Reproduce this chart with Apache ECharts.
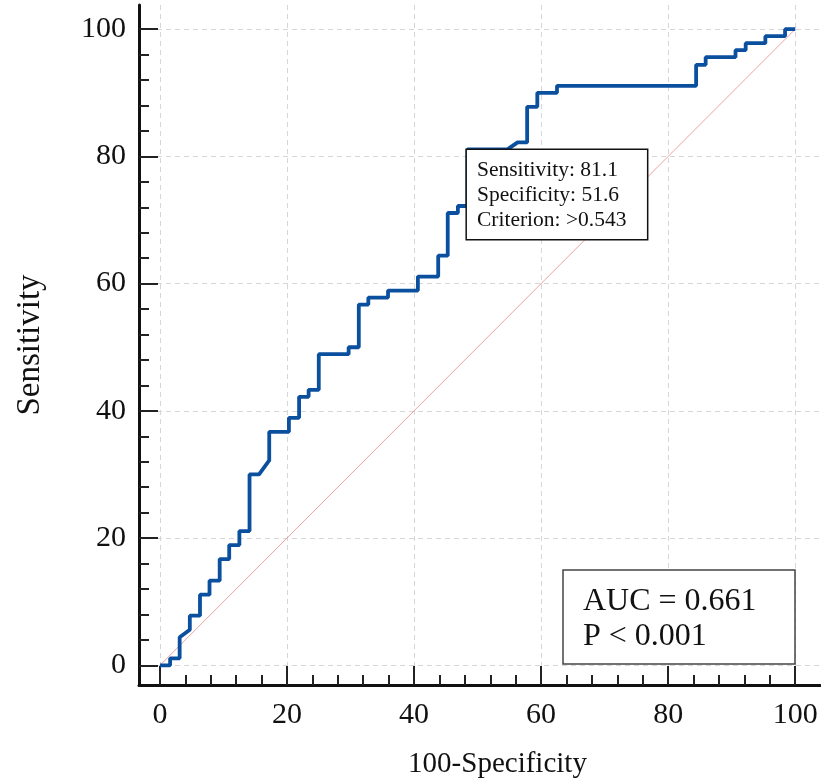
<!DOCTYPE html>
<html>
<head>
<meta charset="utf-8">
<script src="https://cdn.jsdelivr.net/npm/echarts@6/dist/echarts.min.js"></script>
<style>
  html, body { margin: 0; background: #fff; }
  #chart { width: 821px; height: 780px; }
</style>
</head>
<body>
<div id="chart"></div>
<script>
// ROC curve points (100-Specificity, Sensitivity)
const fpr = [0, 1.6, 1.6, 3.1, 3.1, 4.7, 4.7, 6.3, 6.3, 7.8, 7.8, 9.4, 9.4, 10.9, 10.9, 12.5, 12.5, 14.1, 14.1, 15.6,
  17.2, 17.2, 20.3, 20.3, 21.9, 21.9, 23.4, 23.4, 25.0, 25.0, 29.7, 29.7, 31.3, 31.3, 32.8, 32.8, 35.9, 35.9, 40.6, 40.6,
  43.8, 43.8, 45.3, 45.3, 46.9, 46.9, 48.4, 48.4, 54.7, 56.3, 57.8, 57.8, 59.4, 59.4, 62.5, 62.5, 84.4, 84.4, 85.9, 85.9,
  90.6, 90.6, 92.2, 92.2, 95.3, 95.3, 98.4, 98.4, 100];
const tpr = [0, 0, 1.1, 1.1, 4.4, 5.6, 7.8, 7.8, 11.1, 11.1, 13.3, 13.3, 16.7, 16.7, 18.9, 18.9, 21.1, 21.1, 30.0, 30.0,
  32.2, 36.7, 36.7, 38.9, 38.9, 42.2, 42.2, 43.3, 43.3, 48.9, 48.9, 50.0, 50.0, 56.7, 56.7, 57.8, 57.8, 58.9, 58.9, 61.1,
  61.1, 64.4, 64.4, 71.1, 71.1, 72.2, 72.2, 81.1, 81.1, 82.2, 82.2, 87.8, 87.8, 90.0, 90.0, 91.1, 91.1, 94.4, 94.4, 95.6,
  95.6, 96.7, 96.7, 97.8, 97.8, 98.9, 98.9, 100, 100];

// reference (chance) line
const diagX = [0, 100];
const diagY = [0, 100];

const majorTicks = [0, 20, 40, 60, 80, 100];
const minorTicks = [4, 8, 12, 16, 24, 28, 32, 36, 44, 48, 52, 56, 64, 68, 72, 76, 84, 88, 92, 96];

const cutSens = 81.1;
const cutSpec = 51.6;
const cutCriterion = '>0.543';
const aucLines = ['AUC = 0.661', 'P < 0.001'];

const serif = '"Liberation Serif", "DejaVu Serif", serif';

function majorAxis(name, min, max, extra) {
  return Object.assign({
    type: 'value',
    min: min,
    max: max,
    name: name,
    nameLocation: 'middle',
    axisLine: { show: true, onZero: false, lineStyle: { color: '#111', width: 3 } },
    axisTick: { show: true, inside: true, length: 19, customValues: majorTicks, lineStyle: { color: '#222', width: 2 } },
    splitLine: { show: true, lineStyle: { color: '#d6d6d6', width: 1, type: [5, 4] } }
  }, extra);
}

function minorAxis(min, max, position) {
  return {
    type: 'value',
    min: min,
    max: max,
    position: position,
    axisLine: { show: false, onZero: false },
    axisTick: { show: true, inside: true, length: 10, customValues: minorTicks, lineStyle: { color: '#222', width: 2 } },
    axisLabel: { show: false },
    splitLine: { show: false }
  };
}

const chart = echarts.init(document.getElementById('chart'));

chart.setOption({
  animation: false,
  backgroundColor: '#fff',
  grid: { left: 139, right: 1, top: 5, bottom: 95, outerBoundsMode: 'none', containLabel: false },
  title: {
    text: aucLines.join('\n'),
    right: 26,
    bottom: 116,
    backgroundColor: '#fff',
    borderColor: '#444',
    borderWidth: 1.5,
    padding: [14, 20, 10, 20],
    textStyle: { fontFamily: serif, fontSize: 32, fontWeight: 'normal', lineHeight: 35, color: '#111', width: 192 }
  },
  xAxis: [
    majorAxis('100-Specificity', -3.3, 103.9, {
      position: 'bottom',
      nameGap: 65,
      nameTextStyle: { fontFamily: serif, fontSize: 29, color: '#111', padding: [0, 0, 0, 36] },
      axisLabel: { customValues: majorTicks, fontFamily: serif, fontSize: 30, color: '#111', margin: 15 }
    }),
    minorAxis(-3.3, 103.9, 'bottom')
  ],
  yAxis: [
    majorAxis('Sensitivity', -3.1, 103.8, {
      position: 'left',
      nameGap: 92,
      nameTextStyle: { fontFamily: serif, fontSize: 33, color: '#111' },
      axisLabel: { customValues: majorTicks, fontFamily: serif, fontSize: 30, color: '#111', margin: 13 }
    }),
    minorAxis(-3.1, 103.8, 'left')
  ],
  series: [
    {
      name: 'diagonal',
      type: 'line',
      data: diagX.map((x, i) => [x, diagY[i]]),
      showSymbol: false,
      lineStyle: { color: '#e58a8a', width: 0.8 },
      z: 2
    },
    {
      name: 'ROC',
      type: 'line',
      data: fpr.map((x, i) => [x, tpr[i]]),
      showSymbol: false,
      lineStyle: { color: '#0b4f9f', width: 3.8 },
      z: 3,
      markPoint: {
        symbol: 'rect',
        symbolSize: 1,
        itemStyle: { color: 'rgba(0,0,0,0)' },
        data: [{ coord: [100 - cutSpec, cutSens] }],
        label: {
          show: true,
          position: [0, 1],
          align: 'left',
          verticalAlign: 'top',
          formatter: [
            'Sensitivity: ' + cutSens.toFixed(1),
            'Specificity: ' + cutSpec.toFixed(1),
            'Criterion: ' + cutCriterion
          ].join('\n'),
          fontFamily: serif,
          fontSize: 21.5,
          lineHeight: 25,
          color: '#111',
          backgroundColor: '#fff',
          borderColor: '#111',
          borderWidth: 1.5,
          padding: [8, 10, 6, 10],
          width: 160
        }
      }
    }
  ]
});
</script>
</body>
</html>
